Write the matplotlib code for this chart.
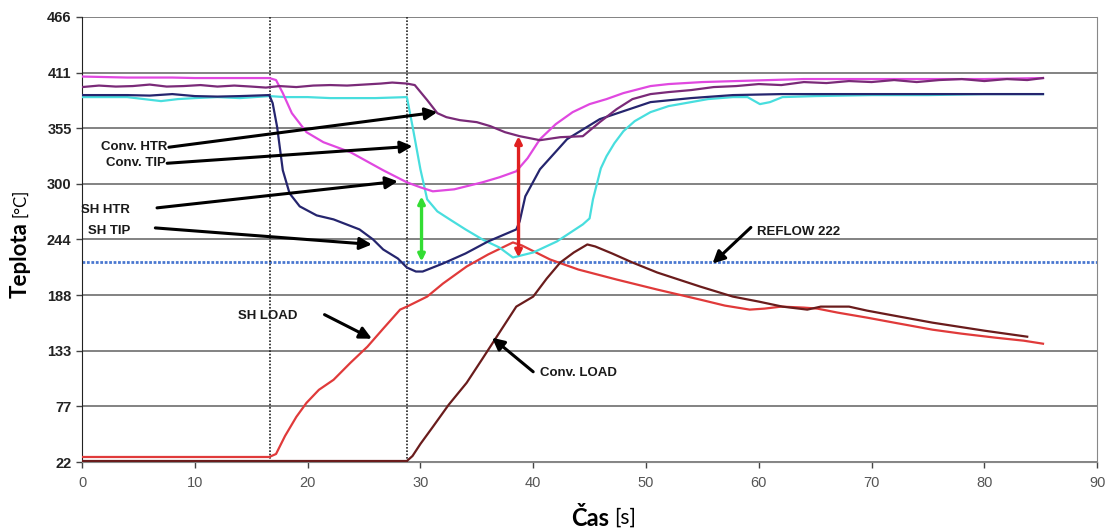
import matplotlib
matplotlib.use("Agg")
import matplotlib.pyplot as plt

# ---------------- data ----------------
conv_htr_x = [0, 1.5, 3, 4.5, 6, 7.5, 9, 10.5, 12, 13.5, 15, 16.3, 17.5, 19, 20.5, 22, 23.5, 25, 26.5, 27.5,
              28.8, 29.5, 30.6, 31.5, 32.3, 33.5, 35, 36.2, 37.5, 38.8, 40.6, 42.4, 44.4, 45.9, 47.4, 48.8,
              50.4, 52, 54, 56, 58, 60, 62, 64, 66, 68, 70, 72, 74, 76, 78, 80, 82, 83.8, 85.2]
conv_htr_y = [396, 397.5, 396.5, 397, 398.5, 396.5, 397, 398, 396.5, 397.5, 396.5, 395.5, 397, 396, 397.5, 398,
              397.5, 398.5, 399.5, 400.5, 399.5, 398, 383, 370, 366, 363, 361, 357, 351, 347, 343, 346, 347,
              361, 374, 384, 389, 391, 393, 396, 397, 399, 398, 401, 400, 402, 401, 403, 401, 403, 404, 402,
              404, 403, 405]

conv_tip_x = [0, 2, 4, 6, 8, 10, 12, 14, 16.6, 17.2, 17.8, 18.6, 19.9, 21.4, 23.8, 26.7, 28.8, 30, 31.1, 33,
              35.5, 37, 38.5, 39.5, 40.6, 42, 43.5, 45, 46.5, 48, 50.4, 52, 55, 58, 61, 64, 70, 75, 80, 85.2]
conv_tip_y = [406.5, 406, 405.5, 405.5, 405.5, 405, 405, 405, 405, 403, 390, 370, 351, 341, 331, 313, 301, 296,
              292, 294, 301, 306, 312, 325, 344, 359, 371, 379, 384, 390, 397, 399, 401, 402, 403, 404, 404,
              404, 404, 405]

sh_tip_x = [0, 2, 4, 6, 8, 10, 12, 14, 16.6, 16.9, 17.3, 17.8, 18.4, 19.3, 20.8, 22.3, 24.6, 25.8, 26.7, 28,
            28.8, 29.6, 30.2, 32, 34, 36, 38.5, 38.8, 39.3, 40.6, 43, 45.9, 50.4, 54, 57.7, 62, 70, 78, 85.2]
sh_tip_y = [388, 388, 388, 387.5, 389, 387, 386.5, 387, 388, 380, 356, 313, 290, 277, 268, 264, 254, 244, 234,
            225, 216, 212, 212, 220, 230, 242, 254, 262, 287, 314, 344, 364, 381, 385, 388, 389, 389, 389, 389]

sh_htr_x = [0, 2, 4, 5.5, 7, 8.5, 10, 12, 14, 16.6, 18, 20, 22, 24, 26, 28.8, 29.3, 30, 30.6, 31.5, 32.6, 34,
            35.5, 37, 38.2, 40, 42.1, 44.4, 45, 45.3, 46, 46.5, 47.2, 48, 49, 50.4, 52, 54, 55.5, 57.7, 59,
            60.1, 61, 62.1, 65, 70, 75, 80, 85.2]
sh_htr_y = [386, 386, 386, 384, 382, 384, 385, 386, 385, 387, 386, 386, 385, 385, 385, 386, 357, 314, 284, 272,
            264, 254, 244, 236, 226, 231, 242, 259, 265, 284, 315, 327, 340, 352, 362, 371, 377, 381, 384, 386,
            386, 379, 381, 386, 387, 388, 388, 389, 389]

sh_load_x = [0, 16.6, 17.2, 18, 19, 19.9, 21, 22.3, 23.8, 25.3, 26.7, 28.2, 28.8, 30.6, 32, 34.1, 36, 38.2, 39,
             41.5, 44, 47.4, 51, 54.8, 57, 59.2, 60.5, 62, 64, 65.2, 67, 69.6, 72, 75.4, 78, 81, 83.5, 85.2]
sh_load_y = [27, 27, 30, 48, 67, 81, 94, 104, 121, 137, 155, 174, 177, 187, 200, 217, 229, 241, 238, 224, 214,
             204, 194, 184, 178, 174, 175, 177, 176, 175, 171, 166, 161, 154, 150, 146, 143, 140]

conv_load_x = [0, 28.8, 29.3, 30, 31.1, 32.5, 34.1, 35.5, 37, 38.5, 40, 41.2, 42.4, 43.6, 44.8, 45.5, 47, 48.8,
               51, 54.8, 57.7, 60, 62.1, 64.3, 65.5, 68, 69.6, 72, 75.4, 80, 83.8]
conv_load_y = [23, 23, 28, 40, 57, 79, 101, 125, 151, 177, 187, 205, 221, 231, 239, 237, 230, 221, 211, 197,
               187, 182, 177, 174, 177, 177, 173, 168, 161, 153, 147]

reflow = 222
vlines_x = [16.67, 28.8]
green_x, green_lo, green_hi = 30.1, 222, 287
red_x, red_lo, red_hi = 38.7, 226, 347

ytick_vals = [22, 77.5, 133, 188.5, 244, 299.5, 355, 410.5, 466]
ytick_labels = ["22", "77", "133", "188", "244", "300", "355", "411", "466"]
xtick_vals = [0, 10, 20, 30, 40, 50, 60, 70, 80, 90]

labels = ["Conv. HTR", "Conv. TIP", "SH HTR", "SH TIP", "SH LOAD", "Conv. LOAD", "REFLOW 222"]
label_pos = [(7.6, 336), (7.45, 320), (4.25, 273.5), (4.25, 252.5), (16.5, 168), (40.6, 111), (59.8, 251.5)]
label_ha = ["right", "right", "right", "right", "center", "left", "left"]
arrow_tail = [(7.7, 336), (7.55, 320), (6.65, 275.5), (6.5, 255.5), (21.5, 169), (40.0, 112), (59.3, 256)]
arrow_head = [(31.5, 371), (29.3, 337), (28.0, 302), (25.7, 239), (25.7, 145), (36.35, 146), (55.9, 220)]

# ---------------- figure ----------------
fig = plt.figure(figsize=(11.07, 5.28), dpi=100)
ax = fig.add_axes([0.0741, 0.125, 0.917, 0.843])

for y in ytick_vals:
    ax.axhline(y, color="#606060", lw=1.1, zorder=1)

ax.axhline(reflow, color="#4a78d0", lw=2.0, ls=(0, (1, 0.6)), zorder=2)
for vx in vlines_x:
    ax.axvline(vx, color="#222222", lw=1.2, ls=(0, (1, 1)), zorder=2)

lw = 1.6
ax.plot(sh_load_x, sh_load_y, color="#e03a3a", lw=lw, zorder=3)
ax.plot(conv_load_x, conv_load_y, color="#6a1c1c", lw=lw, zorder=3)
ax.plot(sh_htr_x, sh_htr_y, color="#48dede", lw=lw, zorder=3)
ax.plot(sh_tip_x, sh_tip_y, color="#25256e", lw=lw, zorder=4)
ax.plot(conv_tip_x, conv_tip_y, color="#e048e0", lw=lw, zorder=3)
ax.plot(conv_htr_x, conv_htr_y, color="#7a2a78", lw=lw, zorder=4)

# double arrows
ax.annotate("", xy=(green_x, green_hi), xytext=(green_x, green_lo),
            arrowprops=dict(arrowstyle="<|-|>", color="#33dd33", lw=2.4, mutation_scale=10,
                            shrinkA=0, shrinkB=0), zorder=5)
ax.annotate("", xy=(red_x, red_hi), xytext=(red_x, red_lo),
            arrowprops=dict(arrowstyle="<|-|>", color="#e02020", lw=2.4, mutation_scale=10,
                            shrinkA=0, shrinkB=0), zorder=5)

# labels and pointer arrows
for lab, (tx, ty), ha, tail, head in zip(labels, label_pos, label_ha, arrow_tail, arrow_head):
    ax.text(tx, ty, lab, ha=ha, va="center", fontsize=9.5, fontweight="bold",
            family="Liberation Sans", color="#1a1a1a", zorder=6)
    ax.annotate("", xy=head, xytext=tail,
                arrowprops=dict(arrowstyle="-|>", color="black", lw=2.2, mutation_scale=18,
                                shrinkA=0, shrinkB=0), zorder=6)

ax.set_xlim(0, 90)
ax.set_ylim(22, 466)
ax.set_xticks(xtick_vals)
ax.set_xticklabels([str(v) for v in xtick_vals], fontsize=10.5, color="#555555", family="Liberation Sans")
ax.set_yticks(ytick_vals)
ax.set_yticklabels(ytick_labels, fontsize=10.5, fontweight="bold", color="#222222", family="Liberation Sans")
ax.tick_params(axis="both", length=4, width=1, color="#444444")
ax.tick_params(axis="x", pad=6)
for s in ["top", "right", "bottom"]:
    ax.spines[s].set_color("#888888")
ax.spines["top"].set_visible(False)
ax.spines["left"].set_color("#222222")

# axis titles
fig.text(20 / 1107, 1 - 260 / 528, "Teplota", rotation=90, ha="center", va="center",
         fontsize=16, fontweight="bold", family="Lato")
fig.text(20 / 1107, 1 - 203 / 528, "[°C]", rotation=90, ha="center", va="center",
         fontsize=12, family="Lato")
fig.text(590 / 1107, 1 - 518 / 528, "Čas", ha="center", va="center",
         fontsize=17, fontweight="bold", family="Lato")
fig.text(625 / 1107, 1 - 518 / 528, "[s]", ha="center", va="center",
         fontsize=15, family="Lato")

fig.savefig("out.png", dpi=100)
